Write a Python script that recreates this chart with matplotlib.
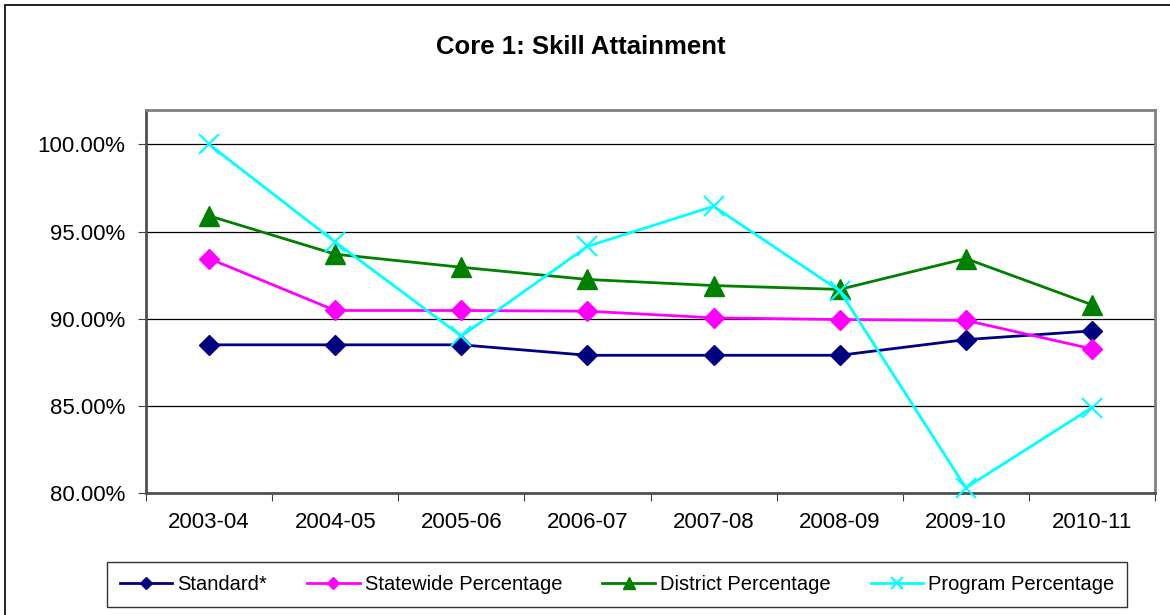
import matplotlib.pyplot as plt
from matplotlib.patches import Rectangle
from matplotlib.ticker import FuncFormatter

plt.rcParams['font.family'] = ['Liberation Sans', 'DejaVu Sans']

# values (percent)
years = ['2003-04', '2004-05', '2005-06', '2006-07', '2007-08', '2008-09', '2009-10', '2010-11']
standard = [88.5, 88.5, 88.5, 87.9, 87.9, 87.9, 88.8, 89.3]
statewide = [93.45, 90.47, 90.47, 90.43, 90.05, 89.95, 89.9, 88.27]
district = [95.9, 93.7, 92.95, 92.25, 91.9, 91.68, 93.45, 90.8]
program = [100.0, 94.4, 89.0, 94.15, 96.45, 91.6, 80.3, 84.9]

fig = plt.figure(figsize=(11.7, 6.15), dpi=100)
ax = fig.add_axes([146/1170, 1 - 493/615, (1155 - 146)/1170, (493 - 109.5)/615])

x = list(range(len(years)))
ax.plot(x, standard, color='#000080', lw=2, marker='D', ms=10, label='Standard*', zorder=3)
ax.plot(x, statewide, color='#FF00FF', lw=2, marker='D', ms=10, label='Statewide Percentage', zorder=3)
ax.plot(x, district, color='#008000', lw=2, marker='^', ms=14, label='District Percentage', zorder=3)
ax.plot(x, program, color='#00FFFF', lw=2, marker='x', ms=14, mew=1.5,
        label='Program Percentage', zorder=4, clip_on=False)

ax.set_xlim(-0.5, len(years) - 0.5)
ax.set_ylim(80, 102)
ax.set_yticks([80, 85, 90, 95, 100])
ax.yaxis.set_major_formatter(FuncFormatter(lambda v, p: f'{v:.2f}%'))
ax.grid(axis='y', color='black', lw=0.9)
ax.set_axisbelow(True)

# category boundaries get tick marks, labels sit at the centres
ax.set_xticks([i - 0.5 for i in range(len(years) + 1)])
ax.set_xticklabels([])
ax.set_xticks(x, minor=True)
ax.set_xticklabels(years, minor=True)
ax.tick_params(axis='x', which='minor', length=0, pad=14, labelsize=16)
ax.tick_params(axis='x', which='major', length=6, color='#404040')
ax.tick_params(axis='y', length=6, pad=9, labelsize=16, color='#404040')

for s in ax.spines.values():
    s.set_color('#808080')
    s.set_linewidth(2)
ax.spines['left'].set_color('#505050')
ax.spines['bottom'].set_color('#505050')

fig.text(581/1170, 1 - 47/615, 'Core 1: Skill Attainment', ha='center', va='center',
         fontsize=18.5, fontweight='bold')

leg = fig.legend(loc='center', bbox_to_anchor=(617/1170, 1 - 584.5/615), ncol=4,
                 fontsize=14.5, frameon=True, fancybox=False, edgecolor='black',
                 handlelength=2.6, columnspacing=2.0, handletextpad=0.25,
                 borderpad=0.65, borderaxespad=0, markerscale=0.6)
leg.get_frame().set_linewidth(1)

# outer chart border
fig.patches.append(Rectangle((5/1170, -0.05), 1.2, 1 - 5/615 + 0.05, transform=fig.transFigure,
                             fill=False, edgecolor='black', lw=1.2))

fig.savefig('out.png', dpi=100)
